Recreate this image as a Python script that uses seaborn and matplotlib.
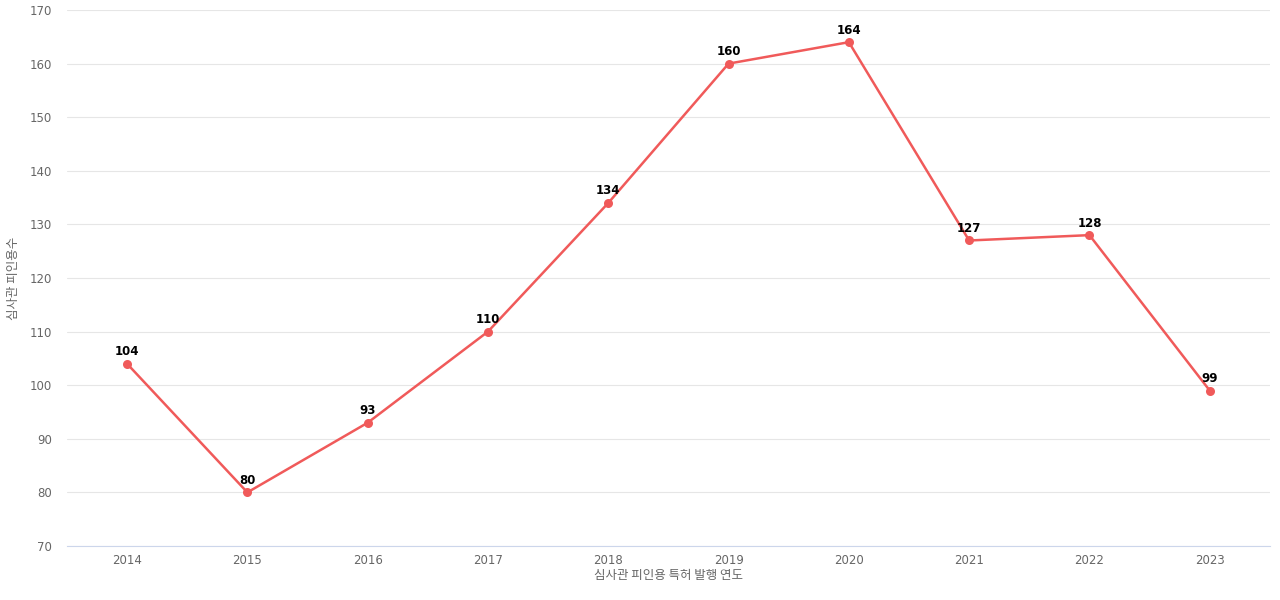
import matplotlib

matplotlib.use("Agg")
import matplotlib.pyplot as plt
import pandas as pd
import seaborn as sns

years = ["2014", "2015", "2016", "2017", "2018", "2019", "2020", "2021", "2022", "2023"]
counts = [104, 80, 93, 110, 134, 160, 164, 127, 128, 99]

sns.set_style("white")
plt.rcParams["font.family"] = ["Noto Sans CJK KR", "DejaVu Sans"]

df = pd.DataFrame({"year": years, "count": counts})
fig = plt.figure(figsize=(12.8, 6), dpi=100)
ax = fig.add_axes([0.0523, 0.09, 0.9398, 0.8933])

sns.lineplot(data=df, x="year", y="count", ax=ax, color="#f05a5a",
             linewidth=1.8, marker="o", markersize=6.5, markeredgewidth=0, sort=False)

for i, v in enumerate(counts):
    ax.annotate(str(v), (i, v), xytext=(0, 4), textcoords="offset points",
                ha="center", va="bottom", fontsize=8.5, fontweight="bold",
                color="black", family=["DejaVu Sans"])

ax.set_xlim(-0.5, len(years) - 0.5)
ax.set_ylim(70, 170)
ax.set_yticks(range(70, 171, 10))
ax.grid(axis="y", color="#e6e6e6", linewidth=0.8)
ax.set_axisbelow(True)
for side in ["top", "right", "left"]:
    ax.spines[side].set_visible(False)
ax.spines["bottom"].set_color("#ccd6eb")
ax.tick_params(length=0, labelsize=8.5, labelcolor="#666666")
for lab in ax.get_xticklabels() + ax.get_yticklabels():
    lab.set_family(["DejaVu Sans"])
ax.tick_params(axis="x", pad=6)
ax.tick_params(axis="y", pad=11)
ax.set_xlabel("심사관 피인용 특허 발행 연도", fontsize=9, color="#666666", labelpad=1)
ax.set_ylabel("심사관 피인용수", fontsize=9, color="#666666", labelpad=7)

fig.savefig("out.png", dpi=100)
plt.close(fig)
